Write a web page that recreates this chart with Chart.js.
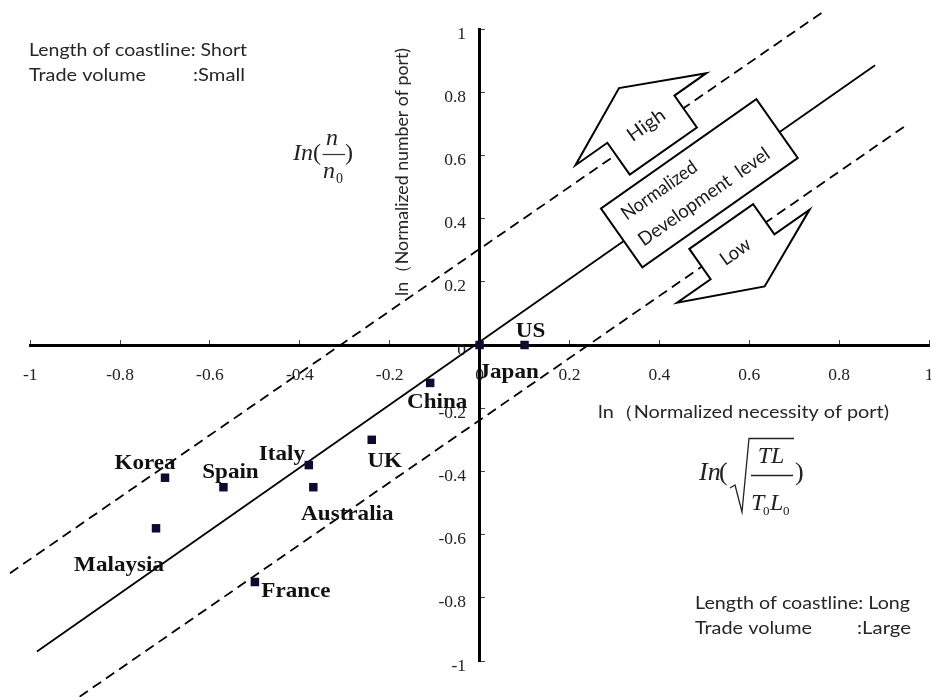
<!DOCTYPE html>
<html>
<head>
<meta charset="utf-8">
<script src="https://cdn.jsdelivr.net/npm/chart.js@4.4.1/dist/chart.umd.min.js"></script>
<style>
  html, body { margin: 0; padding: 0; background: #fff; overflow: hidden; width: 931px; height: 697px; }
  #wrap { position: absolute; left: 0; top: 0; width: 935px; height: 697px; }
</style>
</head>
<body>
<div id="wrap"><canvas id="chart" width="935" height="697"></canvas></div>
<script>
// Countries and their normalized log values
const countries   = ['Korea', 'Spain', 'Italy', 'Australia', 'UK', 'Malaysia', 'France', 'China', 'Japan', 'US'];
const lnNecessity = [-0.70, -0.57, -0.38, -0.37, -0.24, -0.72, -0.50, -0.11, 0.00, 0.10];
const lnPorts     = [-0.42, -0.45, -0.38, -0.45, -0.30, -0.58, -0.75, -0.12, 0.00, 0.00];

// Normalized development level line and its high / low band limits
const levelX    = [-0.985, 0.88];
const levelY    = [-0.97, 0.885];
const highBandX = [-1.045, 0.765];
const highBandY = [-0.722, 1.055];
const lowBandX  = [-0.89, 0.95];
const lowBandY  = [-1.113, 0.696];

// Tick labels for both axes
const axisTicks = [-1, -0.8, -0.6, -0.4, -0.2, 0, 0.2, 0.4, 0.6, 0.8, 1];

// Label placement relative to each marker (pixels)
const labelOffsets = [[-20, -14], [7, -15], [-27, -11], [34, 27], [13, 22], [-37, 37], [41, 10], [7, 20], [29, 28], [6, -13]];

const pairs = (xs, ys) => xs.map((x, i) => ({ x, y: ys[i] }));

function drawText(ctx, s, x, y, font, opt = {}) {
  ctx.save();
  ctx.font = font;
  ctx.fillStyle = opt.color || '#222';
  ctx.textAlign = opt.align || 'left';
  ctx.textBaseline = opt.baseline || 'alphabetic';
  ctx.translate(x, y);
  if (opt.rotate) ctx.rotate(opt.rotate);
  if (opt.width) {
    const w = ctx.measureText(s).width;
    ctx.scale(opt.width / w, 1);
  } else if (opt.sx) {
    ctx.scale(opt.sx, 1);
  }
  ctx.fillText(s, 0, 0);
  ctx.restore();
}

function polygon(ctx, pts) {
  ctx.beginPath();
  pts.forEach((p, i) => (i ? ctx.lineTo(p[0], p[1]) : ctx.moveTo(p[0], p[1])));
  ctx.closePath();
  ctx.fill();
  ctx.stroke();
}

const SANS = 'Lato, "Open Sans", sans-serif';
const SERIF = '"Liberation Serif", "Times New Roman", serif';

const annotations = {
  id: 'annotations',
  afterDatasetsDraw(chart) {
    const ctx = chart.ctx;
    const xs = chart.scales.x, ys = chart.scales.y;

    // Development-level box with the High / Low arrows, aligned to the level line
    const cx = xs.getPixelForValue(0.489), cy = ys.getPixelForValue(0.512);
    const ang = Math.atan2(ys.getPixelForValue(1) - ys.getPixelForValue(0),
                           xs.getPixelForValue(1) - xs.getPixelForValue(0));
    ctx.save();
    ctx.translate(cx, cy);
    ctx.rotate(ang);
    ctx.lineWidth = 2;
    ctx.lineJoin = 'miter';
    ctx.strokeStyle = '#000';
    ctx.fillStyle = '#fff';
    polygon(ctx, [[-95, -36], [95, -36], [95, 36], [-95, 36]]);
    polygon(ctx, [[-52, -47], [-52, -86], [-91, -86], [-11, -124], [69, -86], [30, -86], [30, -47]]);
    polygon(ctx, [[-46, 48], [32, 48], [32, 85], [75, 85], [-6, 122], [-87, 85], [-46, 85]]);
    drawText(ctx, 'Normalized', -81, -11, '19px ' + SANS, { width: 88, color: '#1a1a1a' });
    drawText(ctx, 'Development  level', -82, 20, '19px ' + SANS, { width: 156, color: '#1a1a1a' });
    drawText(ctx, 'High', -10, -72, '19px ' + SANS, { width: 42, align: 'center', color: '#1a1a1a' });
    drawText(ctx, 'Low', -10, 83, '19px ' + SANS, { width: 33, align: 'center', color: '#1a1a1a' });
    ctx.restore();

    // Country labels
    countries.forEach((name, i) => {
      const px = xs.getPixelForValue(lnNecessity[i]) + labelOffsets[i][0];
      const py = ys.getPixelForValue(lnPorts[i]) + labelOffsets[i][1];
      drawText(ctx, name, px, py, 'bold 21px ' + SERIF, { align: 'center', baseline: 'middle', sx: 1.1, color: '#111' });
    });

    // Axis titles
    drawText(ctx, 'ln（Normalized necessity of port)', 598, 418, '18px ' + SANS, { width: 291, color: '#262626' });
    drawText(ctx, 'ln（Normalized number of port)', 402, 172, '18px ' + SANS,
             { width: 248, align: 'center', baseline: 'middle', rotate: -Math.PI / 2, color: '#262626' });

    // Corner notes
    const note = '17px ' + SANS;
    drawText(ctx, 'Length of coastline: Short', 29, 56, note, { width: 218, color: '#262626' });
    drawText(ctx, 'Trade volume', 29, 81, note, { width: 117, color: '#262626' });
    drawText(ctx, ':Small', 193, 81, note, { width: 52, color: '#262626' });
    drawText(ctx, 'Length of coastline: Long', 695, 609, note, { width: 215, color: '#262626' });
    drawText(ctx, 'Trade volume', 695, 634, note, { width: 117, color: '#262626' });
    drawText(ctx, ':Large', 857, 634, note, { width: 54, color: '#262626' });

    // ln(n / n0)
    const it24 = 'italic 24px ' + SERIF, rm24 = '24px ' + SERIF;
    drawText(ctx, 'In', 293, 160, it24, { color: '#222' });
    drawText(ctx, '(', 313, 160, rm24, { color: '#222' });
    drawText(ctx, 'n', 332, 145, it24, { align: 'center', color: '#222' });
    drawText(ctx, 'n', 323, 178, it24, { color: '#222' });
    drawText(ctx, '0', 336, 183, '14px ' + SERIF, { color: '#222' });
    drawText(ctx, ')', 345, 160, rm24, { color: '#222' });
    ctx.save();
    ctx.strokeStyle = '#333';
    ctx.lineWidth = 1.2;
    ctx.beginPath(); ctx.moveTo(322.5, 154.5); ctx.lineTo(345, 154.5); ctx.stroke();
    ctx.restore();

    // ln( sqrt(TL / T0L0) )
    const it26 = 'italic 26px ' + SERIF, rm26 = '26px ' + SERIF;
    drawText(ctx, 'In', 699, 480, it26, { color: '#222' });
    drawText(ctx, '(', 719, 480, rm26, { color: '#222' });
    drawText(ctx, 'TL', 771, 463, 'italic 24px ' + SERIF, { align: 'center', color: '#222' });
    drawText(ctx, 'T', 751, 510, 'italic 24px ' + SERIF, { color: '#222' });
    drawText(ctx, '0', 763, 515, '13px ' + SERIF, { color: '#222' });
    drawText(ctx, 'L', 770, 510, 'italic 24px ' + SERIF, { color: '#222' });
    drawText(ctx, '0', 783, 515, '13px ' + SERIF, { color: '#222' });
    drawText(ctx, ')', 795, 480, rm26, { color: '#222' });
    ctx.save();
    ctx.strokeStyle = '#222';
    ctx.lineWidth = 1.3;
    ctx.beginPath();
    ctx.moveTo(730, 488); ctx.lineTo(735, 485); ctx.lineTo(742, 512); ctx.lineTo(749, 438.5); ctx.lineTo(794, 438.5);
    ctx.stroke();
    ctx.beginPath(); ctx.moveTo(751, 475.5); ctx.lineTo(793, 475.5); ctx.stroke();
    ctx.restore();
  }
};

const zeroPadding = (s) => { s.paddingLeft = 0; s.paddingRight = 0; s.paddingTop = 0; s.paddingBottom = 0; };
const tickFont = { family: SERIF, size: 17.5 };

new Chart(document.getElementById('chart'), {
  type: 'scatter',
  data: {
    datasets: [
      {
        label: 'Countries',
        data: pairs(lnNecessity, lnPorts),
        pointStyle: 'rect',
        pointRadius: 6,
        backgroundColor: '#0c0c30',
        borderWidth: 0,
        clip: false
      },
      {
        label: 'Development level',
        data: pairs(levelX, levelY),
        showLine: true,
        borderColor: '#000',
        borderWidth: 1.8,
        pointRadius: 0,
        clip: false
      },
      {
        label: 'High',
        data: pairs(highBandX, highBandY),
        showLine: true,
        borderColor: '#000',
        borderWidth: 1.8,
        borderDash: [10, 6],
        pointRadius: 0,
        clip: false
      },
      {
        label: 'Low',
        data: pairs(lowBandX, lowBandY),
        showLine: true,
        borderColor: '#000',
        borderWidth: 1.8,
        borderDash: [10, 6],
        pointRadius: 0,
        clip: false
      }
    ]
  },
  options: {
    responsive: false,
    animation: false,
    devicePixelRatio: 1,
    events: [],
    layout: { padding: { left: 30.2, right: 2.2, top: 29, bottom: 36 } },
    plugins: { legend: { display: false }, tooltip: { enabled: false } },
    scales: {
      x: {
        type: 'linear',
        position: 'center',
        min: -1,
        max: 1,
        afterBuildTicks: (s) => { s.ticks = axisTicks.map((value) => ({ value })); },
        afterFit: zeroPadding,
        grid: { display: true, drawOnChartArea: false, drawTicks: true, tickLength: -7, color: '#444', lineWidth: 1 },
        border: { display: true, color: '#000', width: 3 },
        ticks: { padding: 26.5, font: tickFont, color: '#222', maxRotation: 0, autoSkip: false, callback: (v) => String(v) }
      },
      y: {
        type: 'linear',
        position: 'center',
        min: -1,
        max: 1,
        afterBuildTicks: (s) => { s.ticks = axisTicks.map((value) => ({ value })); },
        afterFit: zeroPadding,
        grid: { display: true, drawOnChartArea: false, drawTicks: true, tickLength: -7, color: '#444', lineWidth: 1 },
        border: { display: true, color: '#000', width: 3 },
        ticks: { padding: 20.5, labelOffset: 5, font: tickFont, color: '#222', autoSkip: false, callback: (v) => String(v) }
      }
    }
  },
  plugins: [annotations]
});
</script>
</body>
</html>
